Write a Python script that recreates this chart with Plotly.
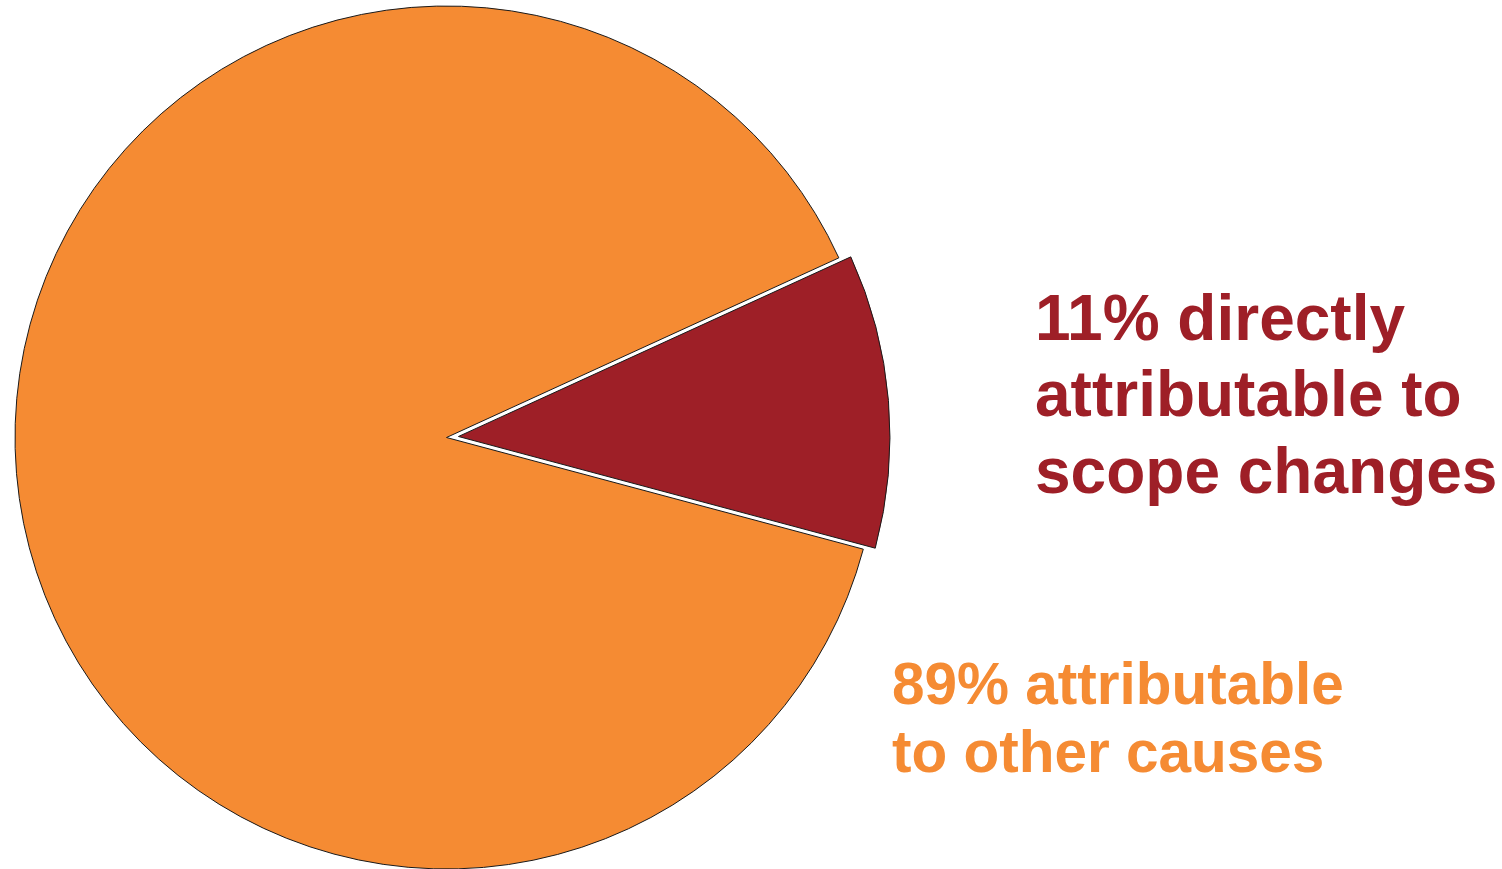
import math
import plotly.graph_objects as go

# Share of the overrun by cause
labels = ["Scope changes", "Other causes"]
values = [11, 89]
slice_colors = ["#9E1F27", "#F58B33"]

# Captions beside the pie
scope_caption = ["11% directly", "attributable to", "scope changes"]
other_caption = ["89% attributable", "to other causes"]

W, H = 1502, 869
R = 431.5                 # pie radius in px
CX, CY = 446.5, 437.5     # pie centre in px
ROTATION = 65.4           # first slice starts ~24.6 deg above 3 o'clock
EXPLODE_PX = 12           # offset of the scope slice along its bisector

CLEAR = "rgba(0,0,0,0)"
OUTLINE = "#1a1a1a"


def domain_for(cx, cy):
    clamp = lambda v: min(1.0, max(0.0, v))
    return dict(
        x=[clamp((cx - R) / W), clamp((cx + R) / W)],
        y=[clamp(1 - (cy + R) / H), clamp(1 - (cy - R) / H)],
    )


# direction of the exploded slice: middle of its angular span
start_deg = 90 - ROTATION
span_deg = 360 * values[0] / sum(values)
bisector = math.radians(start_deg - span_deg / 2)
dx = EXPLODE_PX * math.cos(bisector)
dy = -EXPLODE_PX * math.sin(bisector)

fig = go.Figure()

# main body: the "other causes" slice
fig.add_trace(go.Pie(
    labels=labels, values=values, sort=False, direction="clockwise",
    rotation=ROTATION, textinfo="none", hoverinfo="label+percent",
    marker=dict(colors=[CLEAR, slice_colors[1]],
                line=dict(color=[CLEAR, OUTLINE], width=[0, 1])),
    domain=domain_for(CX, CY), showlegend=False,
))

# exploded "scope changes" slice
fig.add_trace(go.Pie(
    labels=labels, values=values, sort=False, direction="clockwise",
    rotation=ROTATION, textinfo="none", hoverinfo="label+percent",
    marker=dict(colors=[slice_colors[0], CLEAR],
                line=dict(color=[OUTLINE, CLEAR], width=[1, 0])),
    domain=domain_for(CX + dx, CY + dy), showlegend=False,
))

FONT = "Liberation Sans, Arial, Helvetica, sans-serif"
annotations = []
for text, yc in zip(scope_caption, [318, 394.5, 471]):
    annotations.append(dict(
        text=text, x=1033 / W, y=1 - yc / H, xref="paper", yref="paper",
        xanchor="left", yanchor="middle", showarrow=False,
        font=dict(family=FONT, size=64, color=slice_colors[0], weight="bold"),
    ))
for text, yc in zip(other_caption, [683, 751]):
    annotations.append(dict(
        text=text, x=890 / W, y=1 - yc / H, xref="paper", yref="paper",
        xanchor="left", yanchor="middle", showarrow=False,
        font=dict(family=FONT, size=58.5, color=slice_colors[1], weight="bold"),
    ))

fig.update_layout(
    width=W, height=H,
    margin=dict(l=0, r=0, t=0, b=0),
    paper_bgcolor="white", plot_bgcolor="white",
    annotations=annotations,
)

fig.write_html("out.html")
